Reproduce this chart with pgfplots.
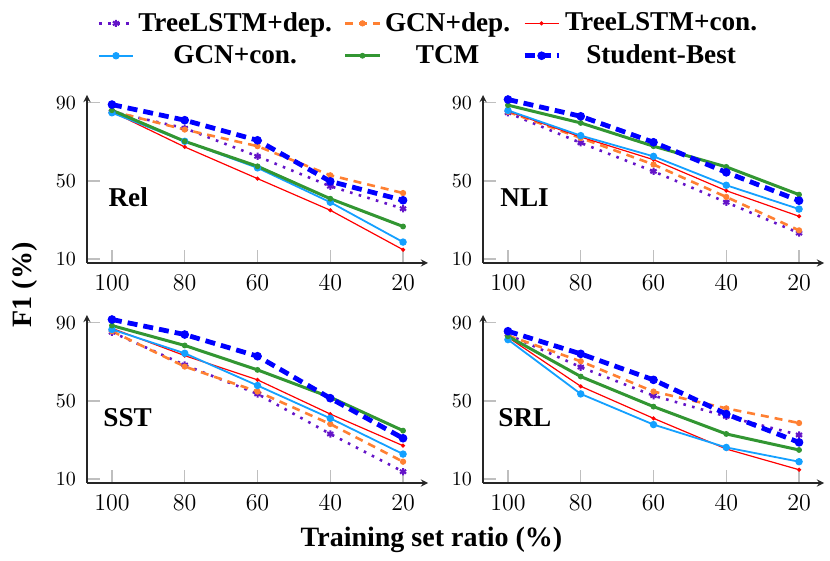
\documentclass[border=0pt]{standalone}
\usepackage[no-math]{fontspec}
\setmainfont{Liberation Serif}
\usepackage{pgfplots}
\pgfplotsset{compat=1.18}
\definecolor{cPurple}{RGB}{100,20,200}
\definecolor{cOrange}{RGB}{255,128,50}
\definecolor{cRed}{RGB}{255,0,0}
\definecolor{cCyan}{RGB}{20,160,255}
\definecolor{cGreen}{RGB}{50,150,50}
\definecolor{cBlue}{RGB}{0,0,255}
\tikzset{plabel/.style={anchor=west, inner sep=0pt, font=\bfseries\fontsize{13.6}{16}\selectfont}}
\pgfplotsset{
  panel/.style={
    scale only axis, width=170.5pt, height=84pt,
    axis lines=left,
    axis line style={line width=0.6pt, black!85},
    xmin=-0.343, xmax=4.343, ymin=8, ymax=94,
    xtick={0,1,2,3,4}, xticklabels={$100$,$80$,$60$,$40$,$20$},
    ytick={10,50,90},
    tick align=inside,
    major tick length=6.5pt,
    tick style={black!25, line width=0.6pt},
    xticklabel style={font=\fontsize{13}{15}\selectfont},
    yticklabel style={font=\fontsize{10}{12}\selectfont},
    xticklabel shift=2.5pt,
    yticklabel shift=2pt,
    anchor=south west,
    clip=false,
  },
  tdep/.style={color=cPurple, line width=1.3pt, dash pattern=on 1.3pt off 3.2pt, mark=asterisk, mark size=1.8pt, mark options={solid, line width=1pt}},
  gdep/.style={color=cOrange, line width=1.3pt, dash pattern=on 4pt off 3pt, mark=*, mark size=1.3pt, mark options={solid, line width=0.5pt}},
  tcon/.style={color=cRed, line width=0.6pt, mark=*, mark size=0.7pt},
  gcon/.style={color=cCyan, line width=0.9pt, mark=*, mark size=1.6pt, mark options={line width=0.5pt}},
  tcm/.style={color=cGreen, line width=1.5pt, mark=*, mark size=1.2pt, mark options={line width=0.5pt}},
  sb/.style={color=cBlue, line width=2.4pt, dash pattern=on 5pt off 3pt, mark=*, mark size=1.9pt, mark options={solid, line width=0.5pt}},
}
\begin{document}
\begin{tikzpicture}
\useasboundingbox (0,0) rectangle (415pt,280.5pt);
% Rel
\begin{axis}[panel, at={(43.5pt,149pt)},
  legend columns=3, legend cell align=center,
  legend style={at={(1.004,1.330)}, anchor=center, draw=none, fill=none,
    font=\bfseries\fontsize{13.6}{16}\selectfont,
    nodes={inner ysep=0.5pt}, row sep=4.25pt,
    /tikz/every even column/.append style={column sep=4pt}}]
\addplot[tdep] coordinates {(0,85.4) (1,77.0) (2,62.6) (3,47.3) (4,35.8)};
\addplot[gdep] coordinates {(0,85.7) (1,76.3) (2,67.8) (3,52.9) (4,43.8)};
\addplot[tcon] coordinates {(0,85.4) (1,67.4) (2,51.2) (3,35.0) (4,14.8)};
\addplot[gcon] coordinates {(0,84.9) (1,70.3) (2,56.7) (3,39.1) (4,18.7)};
\addplot[tcm] coordinates {(0,86.2) (1,70.3) (2,57.5) (3,40.9) (4,26.7)};
\addplot[sb] coordinates {(0,89.1) (1,81.1) (2,70.8) (3,49.8) (4,40.1)};
\legend{TreeLSTM+dep., GCN+dep., TreeLSTM+con., GCN+con., TCM, Student-Best}
\node[plabel] at (rel axis cs:0.062,0.39) {Rel};
\end{axis}
% NLI
\begin{axis}[panel, at={(241.5pt,149pt)}]
\addplot[tdep] coordinates {(0,84.9) (1,69.5) (2,54.9) (3,39.1) (4,23.3)};
\addplot[gdep] coordinates {(0,85.4) (1,72.0) (2,58.4) (3,41.8) (4,24.7)};
\addplot[tcon] coordinates {(0,85.7) (1,72.5) (2,60.9) (3,45.0) (4,31.9)};
\addplot[gcon] coordinates {(0,86.1) (1,73.2) (2,62.6) (3,47.8) (4,35.6)};
\addplot[tcm] coordinates {(0,88.8) (1,79.7) (2,67.8) (3,57.2) (4,43.0)};
\addplot[sb] coordinates {(0,91.7) (1,83.1) (2,69.8) (3,54.4) (4,39.9)};
\node[plabel] at (rel axis cs:0.050,0.39) {NLI};
\end{axis}
% SST
\begin{axis}[panel, at={(43.5pt,39pt)}]
\addplot[tdep] coordinates {(0,85.2) (1,68.4) (2,53.6) (3,33.1) (4,13.8)};
\addplot[gdep] coordinates {(0,85.7) (1,67.6) (2,54.8) (3,38.2) (4,18.9)};
\addplot[tcon] coordinates {(0,87.2) (1,73.2) (2,60.8) (3,43.3) (4,27.1)};
\addplot[gcon] coordinates {(0,86.6) (1,74.4) (2,57.9) (3,41.1) (4,22.8)};
\addplot[tcm] coordinates {(0,88.6) (1,78.4) (2,65.9) (3,51.9) (4,34.8)};
\addplot[sb] coordinates {(0,91.7) (1,84.0) (2,72.9) (3,51.4) (4,30.9)};
\node[plabel] at (rel axis cs:0.047,0.387) {SST};
\end{axis}
% SRL
\begin{axis}[panel, at={(241.5pt,39pt)}]
\addplot[tdep] coordinates {(0,84.0) (1,67.3) (2,52.7) (3,42.1) (4,32.6)};
\addplot[gdep] coordinates {(0,83.5) (1,70.3) (2,54.8) (3,46.2) (4,38.7)};
\addplot[tcon] coordinates {(0,82.6) (1,57.5) (2,41.1) (3,25.4) (4,14.8)};
\addplot[gcon] coordinates {(0,81.4) (1,53.6) (2,37.9) (3,26.2) (4,18.9)};
\addplot[tcm] coordinates {(0,83.1) (1,62.5) (2,47.1) (3,33.1) (4,24.9)};
\addplot[sb] coordinates {(0,85.7) (1,74.1) (2,60.8) (3,43.3) (4,28.8)};
\node[plabel] at (rel axis cs:0.044,0.387) {SRL};
\end{axis}
\node[anchor=base, inner sep=0pt, font=\bfseries\fontsize{14}{16}\selectfont] at (215.75pt,7pt) {Training set ratio (\%)};
\node[anchor=base, rotate=90, inner sep=0pt, font=\bfseries\fontsize{14}{16}\selectfont] at (16pt,138pt) {F1 (\%)};
\end{tikzpicture}
\end{document}
